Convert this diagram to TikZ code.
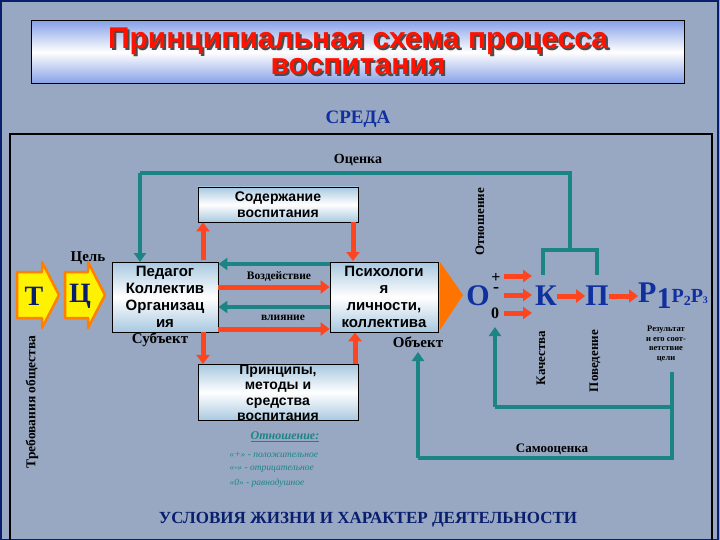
\documentclass[tikz,border=0pt]{standalone}
\usepackage{fontspec}
\setmainfont{Liberation Serif}
\newfontfamily\sansf{Liberation Sans}
\usetikzlibrary{arrows.meta,shadows}
\definecolor{bg}{HTML}{98A8C2}
\definecolor{tealc}{HTML}{1B8585}
\definecolor{redc}{HTML}{FF4420}
\definecolor{navy}{HTML}{0A1E6E}
\definecolor{dblue}{HTML}{1030A0}
\definecolor{lb}{HTML}{A8C8E0}
\begin{document}
\begin{tikzpicture}[x=1pt,y=-1pt,
 box/.style={draw=black,line width=0.8pt,top color=lb,bottom color=lb,middle color=white,shading angle=0,align=center,font=\sansf\bfseries\fontsize{14}{15.5}\selectfont,inner sep=0pt},
 ta/.style={tealc,line width=4.5pt,-{Triangle[width=12pt,length=9pt]}},
 tl/.style={tealc,line width=4.5pt},
 ra/.style={redc,line width=5pt,-{Triangle[width=13pt,length=9pt]}},
 big/.style={font=\bfseries\fontsize{30}{30}\selectfont,text=dblue,inner sep=0pt},
 fat/.style={fill=yellow,draw=orange,line width=2.5pt,line join=round}]
\useasboundingbox (0,0) rectangle (720,540);
\fill[bg] (0,0) rectangle (720,540);
\draw[navy,line width=1.2pt] (1,1) rectangle (718,540);
% title
\node[draw=black,line width=0.8pt,minimum width=653pt,minimum height=63pt,top color=lb!80!blue,bottom color=lb!80!blue,middle color=white,shading angle=0] (tb) at (358,52) {};
\node[align=center,text=black!70,font=\sansf\bfseries\fontsize{30}{26}\selectfont] (titleshadow) at (360,53) {Принципиальная схема процесса\\воспитания};
\node[align=center,text=red!85!orange,font=\sansf\bfseries\fontsize{30}{26}\selectfont] (title) at (358,51) {Принципиальная схема процесса\\воспитания};
\node[text=dblue,font=\bfseries\fontsize{19}{19}\selectfont] (sreda) at (358,119) {СРЕДА};
\draw[black,line width=1.5pt] (10,540) -- (10,134) -- (712,134) -- (712,540);
\node[font=\bfseries\fontsize{14}{14}\selectfont] (ocenka) at (358,160) {Оценка};
% boxes
\node[box,minimum width=160pt,minimum height=35pt] (sod) at (278,204.5) {Содержание\\воспитания};
\node[box,minimum width=106pt,minimum height=70pt,font=\sansf\bfseries\fontsize{15}{17}\selectfont] (ped) at (165,297) {Педагог\\Коллектив\\Организац\\ия};
\node[box,minimum width=108pt,minimum height=70pt,font=\sansf\bfseries\fontsize{15}{17}\selectfont] (psy) at (384,297) {Психологи\\я\\личности,\\коллектива};
\node[box,minimum width=160pt,minimum height=55pt] (pri) at (278,392.5) {Принципы,\\методы и\\средства\\воспитания};
\node[font=\bfseries\fontsize{15}{15}\selectfont] (subj) at (160,340) {Субъект};
\node[font=\bfseries\fontsize{15}{15}\selectfont] (obj) at (418,342) {Объект};
\node[font=\bfseries\fontsize{15}{15}\selectfont] (cel) at (88,258) {Цель};
% fat arrows
\draw[fat] (17,272) -- (42,272) -- (42,262) -- (59,295) -- (42,328) -- (42,318) -- (17,318) -- cycle;
\node[font=\bfseries\fontsize{28}{28}\selectfont,text=navy] (T) at (34,296) {Т};
\draw[fat] (65,272) -- (88,272) -- (88,262) -- (105,295) -- (88,328) -- (88,318) -- (65,318) -- cycle;
\node[font=\bfseries\fontsize{28}{28}\selectfont,text=navy] (C) at (80,296) {Ц};
% arrows between boxes
\coordinate (ped1) at (ped.east |- 0,264); \coordinate (psy1) at (psy.west |- 0,264);
\coordinate (ped2) at (ped.east |- 0,287); \coordinate (psy2) at (psy.west |- 0,287);
\coordinate (ped3) at (ped.east |- 0,307); \coordinate (psy3) at (psy.west |- 0,307);
\coordinate (ped4) at (ped.east |- 0,329); \coordinate (psy4) at (psy.west |- 0,329);
\draw[ta] (psy1) -- (ped1);
\draw[ra] (ped2) -- (psy2);
\draw[ta] (psy3) -- (ped3);
\draw[ra] (ped4) -- (psy4);
\node[font=\bfseries\fontsize{11.5}{11.5}\selectfont] (vozd) at (279,277) {Воздействие};
\node[font=\bfseries\fontsize{11.5}{11.5}\selectfont] (vliy) at (283,318) {влияние};
% vertical red arrows
\draw[ra] (203,260) -- (sod.south -| 203,0);
\draw[ra] (sod.south -| 353,0) -- (353,261);
\draw[ra] (ped.south -| 203,0) -- (pri.north -| 203,0);
\draw[ra] (pri.north -| 355,0) -- (psy.south -| 355,0);
% top teal loop
\coordinate (a1) at (140,173); \coordinate (a2) at (570,173); \coordinate (a3) at (570,250);
\coordinate (b1) at (543,250); \coordinate (b2) at (597,250); \coordinate (b3) at (543,275); \coordinate (b4) at (597,275);
\draw[tl,line join=miter] (a3) -- (a2) -- (a1);
\draw[ta] (a1) -- (140,262);
\draw[tl,line join=miter] (b3) -- (b1) -- (b2) -- (b4);
% orange big arrow
\fill[orange!90!red] (440,262) -- (463,295) -- (440,330) -- cycle;
% right chain
\node[font=\bfseries\fontsize{13}{13}\selectfont,rotate=90] (otn) at (480,222) {Отношение};
\node[big] (O) at (478,296) {О};
\node[font=\bfseries\fontsize{16}{16}\selectfont] (plus) at (496,278) {+};
\node[font=\bfseries\fontsize{18}{18}\selectfont] (minus) at (496,290) {-};
\node[font=\bfseries\fontsize{16}{16}\selectfont] (zero) at (495,313) {0};
\node[big] (K) at (546,296) {К};
\node[big] (P) at (597,296) {П};
\node[big,anchor=west] (R) at (638,296) {Р\raisebox{-6pt}{1}{\fontsize{20}{20}\selectfont Р\raisebox{-3pt}{\fontsize{14}{14}\selectfont 2}Р\raisebox{-1pt}{\fontsize{10}{10}\selectfont 3}}};
\draw[redc,line width=5pt,-{Triangle[width=12pt,length=9pt]}] (504,276) -- (532,276);
\draw[redc,line width=5pt,-{Triangle[width=12pt,length=9pt]}] (504,295) -- (532,295);
\draw[redc,line width=5pt,-{Triangle[width=12pt,length=9pt]}] (504,313) -- (532,313);
\draw[ra] (K.east) -- (P.west);
\draw[ra] (P.east) -- (R.west);
\node[font=\bfseries\fontsize{13}{13}\selectfont,rotate=90] (kach) at (541,358) {Качества};
\node[font=\bfseries\fontsize{13}{13}\selectfont,rotate=90] (pov) at (595,361) {Поведение};
\node[font=\bfseries\fontsize{8.5}{9.5}\selectfont,align=center] (res) at (666,344) {Результат\\и его соот-\\ветствие\\цели};
% bottom teal loops
\coordinate (c1) at (672,372); \coordinate (c2) at (672,407); \coordinate (c3) at (495,407);
\coordinate (c4) at (672,458); \coordinate (c5) at (418,458);
\draw[tl,line join=miter] (c1) -- (c4) -- (c5);
\draw[ta] (c5) -- (418,352);
\draw[tl] (c2) -- (c3);
\draw[ta] (c3) -- (495,327);
\node[font=\bfseries\fontsize{13}{13}\selectfont] (samo) at (552,449) {Самооценка};
% legend
\node[text=tealc,font=\bfseries\itshape\fontsize{12}{12}\selectfont] (leg) at (285,437) {\underline{Отношение:}};
\node[text=tealc,font=\itshape\fontsize{9.5}{9.5}\selectfont,anchor=west] (l1) at (226,455) {«+» - положительное};
\node[text=tealc,font=\itshape\fontsize{9.5}{9.5}\selectfont,anchor=west] (l2) at (226,469) {«-» - отрицательное};
\node[text=tealc,font=\itshape\fontsize{9.5}{9.5}\selectfont,anchor=west] (l3) at (226,483) {«0» - равнодушное};
\node[text=navy,font=\bfseries\fontsize{17}{17}\selectfont] (usl) at (368,520) {УСЛОВИЯ ЖИЗНИ И ХАРАКТЕР ДЕЯТЕЛЬНОСТИ};
\node[font=\bfseries\fontsize{13.5}{13.5}\selectfont,rotate=90] (treb) at (32,402) {Требования общества};
\end{tikzpicture}
\end{document}
